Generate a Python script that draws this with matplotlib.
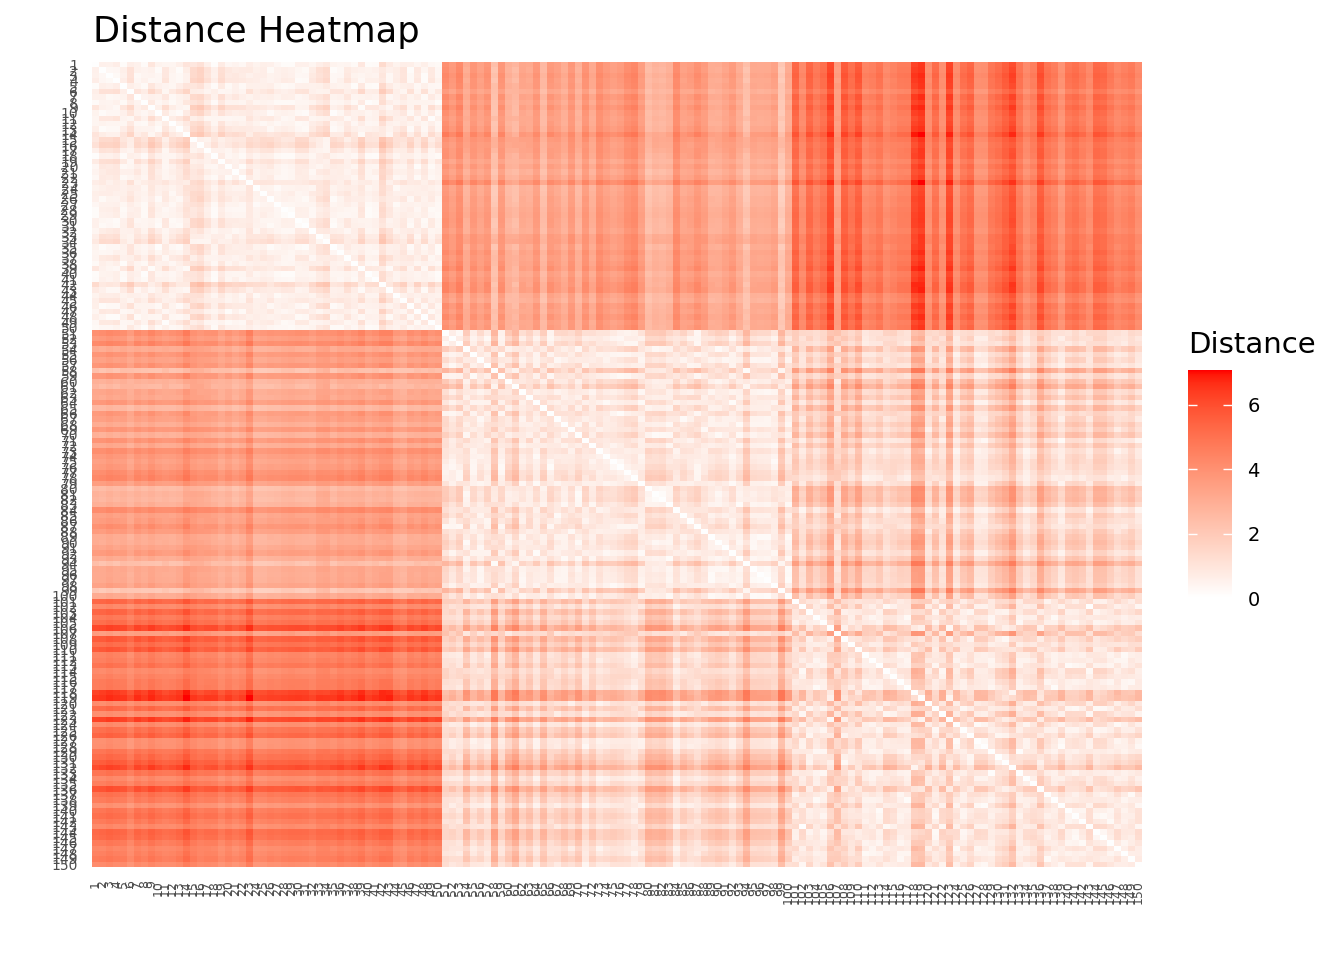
# -*- coding: utf-8 -*-

import matplotlib
matplotlib.use("Agg")
import matplotlib.pyplot as plt
import numpy as np
from matplotlib.colors import ListedColormap


# iris measurements, one entry per sample (1..150)
sepal_length = [
    5.1, 4.9, 4.7, 4.6, 5.0, 5.4, 4.6, 5.0, 4.4, 4.9, 5.4, 4.8, 4.8, 4.3, 5.8, 5.7, 5.4, 5.1, 5.7, 5.1,
    5.4, 5.1, 4.6, 5.1, 4.8, 5.0, 5.0, 5.2, 5.2, 4.7, 4.8, 5.4, 5.2, 5.5, 4.9, 5.0, 5.5, 4.9, 4.4, 5.1,
    5.0, 4.5, 4.4, 5.0, 5.1, 4.8, 5.1, 4.6, 5.3, 5.0,
    7.0, 6.4, 6.9, 5.5, 6.5, 5.7, 6.3, 4.9, 6.6, 5.2, 5.0, 5.9, 6.0, 6.1, 5.6, 6.7, 5.6, 5.8, 6.2, 5.6,
    5.9, 6.1, 6.3, 6.1, 6.4, 6.6, 6.8, 6.7, 6.0, 5.7, 5.5, 5.5, 5.8, 6.0, 5.4, 6.0, 6.7, 6.3, 5.6, 5.5,
    5.5, 6.1, 5.8, 5.0, 5.6, 5.7, 5.7, 6.2, 5.1, 5.7,
    6.3, 5.8, 7.1, 6.3, 6.5, 7.6, 4.9, 7.3, 6.7, 7.2, 6.5, 6.4, 6.8, 5.7, 5.8, 6.4, 6.5, 7.7, 7.7, 6.0,
    6.9, 5.6, 7.7, 6.3, 6.7, 7.2, 6.2, 6.1, 6.4, 7.2, 7.4, 7.9, 6.4, 6.3, 6.1, 7.7, 6.3, 6.4, 6.0, 6.9,
    6.7, 6.9, 5.8, 6.8, 6.7, 6.7, 6.3, 6.5, 6.2, 5.9,
]
sepal_width = [
    3.5, 3.0, 3.2, 3.1, 3.6, 3.9, 3.4, 3.4, 2.9, 3.1, 3.7, 3.4, 3.0, 3.0, 4.0, 4.4, 3.9, 3.5, 3.8, 3.8,
    3.4, 3.7, 3.6, 3.3, 3.4, 3.0, 3.4, 3.5, 3.4, 3.2, 3.1, 3.4, 4.1, 4.2, 3.1, 3.2, 3.5, 3.6, 3.0, 3.4,
    3.5, 2.3, 3.2, 3.5, 3.8, 3.0, 3.8, 3.2, 3.7, 3.3,
    3.2, 3.2, 3.1, 2.3, 2.8, 2.8, 3.3, 2.4, 2.9, 2.7, 2.0, 3.0, 2.2, 2.9, 2.9, 3.1, 3.0, 2.7, 2.2, 2.5,
    3.2, 2.8, 2.5, 2.8, 2.9, 3.0, 2.8, 3.0, 2.9, 2.6, 2.4, 2.4, 2.7, 2.7, 3.0, 3.4, 3.1, 2.3, 3.0, 2.5,
    2.6, 3.0, 2.6, 2.3, 2.7, 3.0, 2.9, 2.9, 2.5, 2.8,
    3.3, 2.7, 3.0, 2.9, 3.0, 3.0, 2.5, 2.9, 2.5, 3.6, 3.2, 2.7, 3.0, 2.5, 2.8, 3.2, 3.0, 3.8, 2.6, 2.2,
    3.2, 2.8, 2.8, 2.7, 3.3, 3.2, 2.8, 3.0, 2.8, 3.0, 2.8, 3.8, 2.8, 2.8, 2.6, 3.0, 3.4, 3.1, 3.0, 3.1,
    3.1, 3.1, 2.7, 3.2, 3.3, 3.0, 2.5, 3.0, 3.4, 3.0,
]
petal_length = [
    1.4, 1.4, 1.3, 1.5, 1.4, 1.7, 1.4, 1.5, 1.4, 1.5, 1.5, 1.6, 1.4, 1.1, 1.2, 1.5, 1.3, 1.4, 1.7, 1.5,
    1.7, 1.5, 1.0, 1.7, 1.9, 1.6, 1.6, 1.5, 1.4, 1.6, 1.6, 1.5, 1.5, 1.4, 1.5, 1.2, 1.3, 1.4, 1.3, 1.5,
    1.3, 1.3, 1.3, 1.6, 1.9, 1.4, 1.6, 1.4, 1.5, 1.4,
    4.7, 4.5, 4.9, 4.0, 4.6, 4.5, 4.7, 3.3, 4.6, 3.9, 3.5, 4.2, 4.0, 4.7, 3.6, 4.4, 4.5, 4.1, 4.5, 3.9,
    4.8, 4.0, 4.9, 4.7, 4.3, 4.4, 4.8, 5.0, 4.5, 3.5, 3.8, 3.7, 3.9, 5.1, 4.5, 4.5, 4.7, 4.4, 4.1, 4.0,
    4.4, 4.6, 4.0, 3.3, 4.2, 4.2, 4.2, 4.3, 3.0, 4.1,
    6.0, 5.1, 5.9, 5.6, 5.8, 6.6, 4.5, 6.3, 5.8, 6.1, 5.1, 5.3, 5.5, 5.0, 5.1, 5.3, 5.5, 6.7, 6.9, 5.0,
    5.7, 4.9, 6.7, 4.9, 5.7, 6.0, 4.8, 4.9, 5.6, 5.8, 6.1, 6.4, 5.6, 5.1, 5.6, 6.1, 5.6, 5.5, 4.8, 5.4,
    5.6, 5.1, 5.1, 5.9, 5.7, 5.2, 5.0, 5.2, 5.4, 5.1,
]
petal_width = [
    0.2, 0.2, 0.2, 0.2, 0.2, 0.4, 0.3, 0.2, 0.2, 0.1, 0.2, 0.2, 0.1, 0.1, 0.2, 0.4, 0.4, 0.3, 0.3, 0.3,
    0.2, 0.4, 0.2, 0.5, 0.2, 0.2, 0.4, 0.2, 0.2, 0.2, 0.2, 0.4, 0.1, 0.2, 0.2, 0.2, 0.2, 0.1, 0.2, 0.2,
    0.3, 0.3, 0.2, 0.6, 0.4, 0.3, 0.2, 0.2, 0.2, 0.2,
    1.4, 1.5, 1.5, 1.3, 1.5, 1.3, 1.6, 1.0, 1.3, 1.4, 1.0, 1.5, 1.0, 1.4, 1.3, 1.4, 1.5, 1.0, 1.5, 1.1,
    1.8, 1.3, 1.5, 1.2, 1.3, 1.4, 1.4, 1.7, 1.5, 1.0, 1.1, 1.0, 1.2, 1.6, 1.5, 1.6, 1.5, 1.3, 1.3, 1.3,
    1.2, 1.4, 1.2, 1.0, 1.3, 1.2, 1.3, 1.3, 1.1, 1.3,
    2.5, 1.9, 2.1, 1.8, 2.2, 2.1, 1.7, 1.8, 1.8, 2.5, 2.0, 1.9, 2.1, 2.0, 2.4, 2.3, 1.8, 2.2, 2.3, 1.5,
    2.3, 2.0, 2.0, 1.8, 2.1, 1.8, 1.8, 1.8, 2.1, 1.6, 1.9, 2.0, 2.2, 1.5, 1.4, 2.3, 2.4, 1.8, 1.8, 2.1,
    2.4, 2.3, 1.9, 2.3, 2.5, 2.3, 1.9, 2.0, 2.3, 1.8,
]
sample_labels = [str(i) for i in range(1, len(sepal_length) + 1)]


def lab_white_to_red(n=256):
    """white -> red gradient interpolated in CIE Lab, like ggplot's scale_fill_gradient"""
    lab_low = np.array([100.0, 0.0, 0.0])
    lab_high = np.array([53.24, 80.09, 67.20])
    t = np.linspace(0, 1, n)[:, None]
    L, a, b = (lab_low + (lab_high - lab_low) * t).T
    fy = (L + 16) / 116
    fx = fy + a / 500
    fz = fy - b / 200

    def finv(v):
        return np.where(v > 6 / 29, v ** 3, 3 * (6 / 29) ** 2 * (v - 4 / 29))

    xyz = np.stack([0.95047 * finv(fx), finv(fy), 1.08883 * finv(fz)], axis=1)
    m = np.array([[3.2406, -1.5372, -0.4986],
                  [-0.9689, 1.8758, 0.0415],
                  [0.0557, -0.2040, 1.0570]])
    rgb = xyz @ m.T
    rgb = np.clip(rgb, 0, 1)
    rgb = np.where(rgb <= 0.0031308, 12.92 * rgb, 1.055 * rgb ** (1 / 2.4) - 0.055)
    return ListedColormap(np.clip(rgb, 0, 1))


def plot_heatmap(plot_filename):
    X = np.column_stack([sepal_length, sepal_width, petal_length, petal_width])
    dist = np.sqrt(((X[:, None, :] - X[None, :, :]) ** 2).sum(axis=2))
    n = len(sample_labels)

    W, H = 1344, 960
    fig = plt.figure(figsize=(W / 100, H / 100), dpi=100)
    ax = fig.add_axes([92 / W, 1 - 867 / H, (1142 - 92) / W, (867 - 62) / H])

    cmap = lab_white_to_red()
    im = ax.imshow(dist, cmap=cmap, vmin=0, vmax=dist.max(),
                   aspect="auto", interpolation="nearest")

    ax.set_xticks(np.arange(n))
    ax.set_xticklabels(sample_labels, rotation=90, va="top", ha="center")
    ax.set_yticks(np.arange(n))
    ax.set_yticklabels(sample_labels, ha="right")
    ax.tick_params(axis="x", length=0, pad=9.5, labelsize=9, labelcolor="#4D4D4D")
    ax.tick_params(axis="y", length=0, pad=10, labelsize=10, labelcolor="#4D4D4D")
    for s in ax.spines.values():
        s.set_visible(False)

    fig.text(93 / W, 1 - 42 / H, "Distance Heatmap", fontsize=25.3,
             ha="left", va="baseline", color="black")

    # legend colourbar
    cax = fig.add_axes([1188 / W, 1 - 598 / H, 44 / W, (598 - 370) / H])
    cb = fig.colorbar(im, cax=cax)
    cb.outline.set_visible(False)
    cb.set_ticks([0, 2, 4, 6])
    cax.yaxis.set_ticks_position("both")
    cax.tick_params(direction="in", length=6.5, width=1, color="white",
                    labelright=True, labelleft=False, labelsize=14, pad=11)
    fig.text(1188 / W, 1 - 353 / H, "Distance", fontsize=21,
             ha="left", va="baseline", color="black")

    plt.savefig(plot_filename, dpi=100)


if __name__ == "__main__":
    plot_heatmap("out.png")
